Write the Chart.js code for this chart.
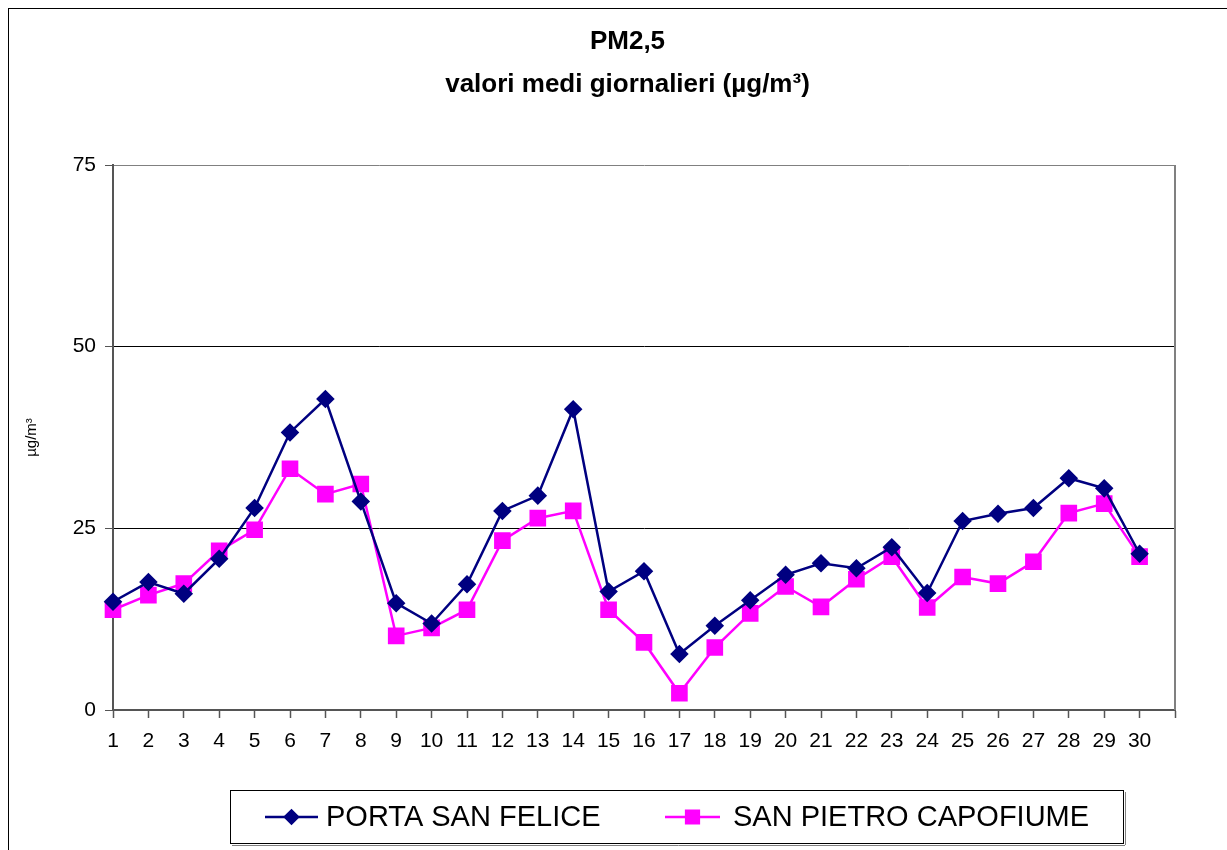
<!DOCTYPE html>
<html>
<head>
<meta charset="utf-8">
<script src="https://cdn.jsdelivr.net/npm/chart.js@4/dist/chart.umd.min.js"></script>
<style>
  html, body { margin: 0; padding: 0; background: #fff; }
  #wrap { width: 1227px; height: 850px; position: relative; }
</style>
</head>
<body>
<div id="wrap"><canvas id="pm25" width="1227" height="850"></canvas></div>
<script>
// giorni del mese (31a posizione vuota sull'asse)
var giorni = ['1','2','3','4','5','6','7','8','9','10','11','12','13','14','15',
              '16','17','18','19','20','21','22','23','24','25','26','27','28','29','30',''];

var portaSanFelice = [14.9, 17.6, 16.0, 20.8, 27.8, 38.2, 42.8, 28.7, 14.7, 11.9,
                      17.3, 27.4, 29.5, 41.4, 16.3, 19.1, 7.7, 11.6, 15.1, 18.6,
                      20.2, 19.5, 22.4, 16.1, 26.0, 27.0, 27.8, 31.9, 30.5, 21.5, null];

var sanPietroCapofiume = [13.8, 15.8, 17.4, 21.9, 24.8, 33.2, 29.7, 31.1, 10.2, 11.3,
                          13.8, 23.3, 26.4, 27.4, 13.8, 9.3, 2.3, 8.6, 13.3, 17.0,
                          14.2, 18.0, 21.1, 14.1, 18.3, 17.4, 20.4, 27.1, 28.4, 21.1, null];

var yTicks = [0, 25, 50, 75];

var FONT = '"Liberation Sans", Arial, sans-serif';

var cornice = {
    id: 'cornice',
    afterDraw: function (chart) {
        var ctx = chart.ctx;
        var a = chart.chartArea;
        ctx.save();
        // bordo esterno
        ctx.strokeStyle = '#000';
        ctx.lineWidth = 1;
        ctx.strokeRect(8.5, 8.5, 1300, 900);
        // bordo destro area grafico
        ctx.strokeStyle = '#808080';
        ctx.lineWidth = 2;
        ctx.beginPath();
        ctx.moveTo(a.right, a.top);
        ctx.lineTo(a.right, a.bottom);
        ctx.stroke();

        // legenda
        ctx.strokeStyle = '#000';
        ctx.lineWidth = 1;
        ctx.strokeRect(230.5, 790.5, 893, 53);
        ctx.strokeStyle = '#808080';
        ctx.beginPath();
        ctx.moveTo(232, 845.5); ctx.lineTo(1125, 845.5);
        ctx.moveTo(1125.5, 792); ctx.lineTo(1125.5, 845);
        ctx.stroke();

        var voci = [{x1: 265, x2: 318, tx: 326}, {x1: 665, x2: 720, tx: 733}];
        var y = 817;
        chart.data.datasets.forEach(function (ds, i) {
            var v = voci[i];
            ctx.strokeStyle = ds.borderColor;
            ctx.fillStyle = ds.pointBackgroundColor;
            ctx.lineWidth = 2.5;
            ctx.beginPath();
            ctx.moveTo(v.x1, y);
            ctx.lineTo(v.x2, y);
            ctx.stroke();
            Chart.helpers.drawPoint(ctx, {
                pointStyle: ds.pointStyle,
                radius: ds.pointRadius - 1,
                rotation: 0,
                borderWidth: 1
            }, (v.x1 + v.x2) / 2, y);
            ctx.fillStyle = '#000';
            ctx.font = '29px ' + FONT;
            ctx.textAlign = 'left';
            ctx.textBaseline = 'middle';
            ctx.fillText(ds.label, v.tx, y + 1);
        });
        ctx.restore();
    }
};

var ctx = document.getElementById('pm25').getContext('2d');
var grafico = new Chart(ctx, {
    type: 'line',
    data: {
        labels: giorni,
        datasets: [{
            label: 'PORTA SAN FELICE',
            data: portaSanFelice,
            borderColor: '#000080',
            backgroundColor: '#000080',
            pointBackgroundColor: '#000080',
            pointBorderColor: '#000080',
            pointStyle: 'rectRot',
            pointRadius: 7.5,
            pointHoverRadius: 7.5,
            borderWidth: 2.5,
            tension: 0
        }, {
            label: 'SAN PIETRO CAPOFIUME',
            data: sanPietroCapofiume,
            borderColor: '#ff00ff',
            backgroundColor: '#ff00ff',
            pointBackgroundColor: '#ff00ff',
            pointBorderColor: '#ff00ff',
            pointStyle: 'rect',
            pointRadius: 10,
            pointHoverRadius: 10,
            borderWidth: 2.5,
            tension: 0
        }]
    },
    options: {
        responsive: false,
        animation: false,
        devicePixelRatio: 1,
        layout: {
            padding: {left: 28, top: 0, right: 0, bottom: 95}
        },
        plugins: {
            legend: {display: false},
            tooltip: {enabled: false},
            title: {
                display: true,
                text: ['PM2,5', 'valori medi giornalieri (\u00b5g/m\u00b3)'],
                color: '#000',
                font: {family: FONT, size: 26, weight: 'bold', lineHeight: '43px'},
                padding: {top: 20, bottom: 59}
            }
        },
        scales: {
            x: {
                offset: false,
                border: {color: '#555', width: 2},
                grid: {drawOnChartArea: false, drawTicks: true, tickLength: 8, tickColor: '#555', tickWidth: 1.5},
                ticks: {
                    autoSkip: false,
                    maxRotation: 0,
                    padding: 11,
                    color: '#000',
                    font: {family: FONT, size: 21}
                },
                afterFit: function (s) { s.height = 45; }
            },
            y: {
                min: 0,
                max: 75,
                border: {color: '#555', width: 2},
                afterBuildTicks: function (s) {
                    s.ticks = yTicks.map(function (v) { return {value: v}; });
                },
                grid: {
                    color: function (c) {
                        return c.tick && c.tick.value === 75 ? '#808080' : '#000';
                    },
                    lineWidth: 1,
                    tickLength: 8,
                    tickColor: '#555'
                },
                ticks: {
                    padding: 9,
                    color: '#000',
                    font: {family: FONT, size: 21}
                },
                title: {
                    display: true,
                    text: '\u00b5g/m\u00b3',
                    color: '#000',
                    font: {family: FONT, size: 15},
                    padding: {top: -5, bottom: 0}
                },
                afterFit: function (s) { s.width = 85; }
            },
            // asse destro vuoto: solo spazio a destra dell'area grafico
            yDestra: {
                position: 'right',
                min: 0,
                max: 75,
                border: {display: false},
                grid: {display: false},
                ticks: {display: false},
                afterFit: function (s) { s.width = 52; }
            }
        }
    },
    plugins: [cornice]
});
</script>
</body>
</html>
